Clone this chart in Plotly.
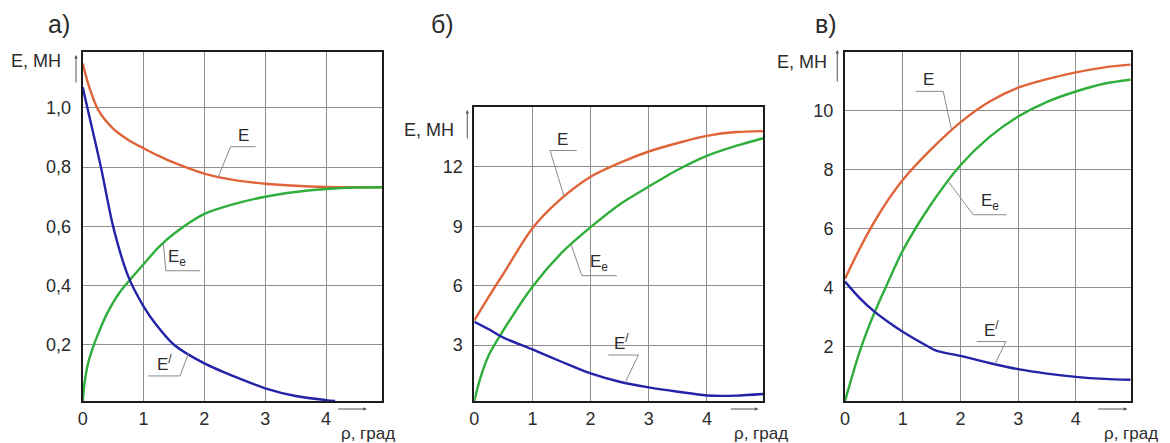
import numpy as np
import plotly.graph_objects as go

W, H = 1170, 443
FONT = "Liberation Sans, Arial, sans-serif"
TXT = "#2b2b2b"
C_E, C_EE, C_EP = "#e0643a", "#2fae3c", "#2323a8"

# ---- panel а ----
rho_E_a = [0, 0.1, 0.25, 0.5, 0.75, 1, 1.25, 1.5, 2, 2.5, 3, 3.5, 4, 4.5, 4.92]
E_a = [1.15, 1.075, 0.995, 0.93, 0.892, 0.864, 0.838, 0.815, 0.778, 0.756, 0.744, 0.737, 0.733, 0.732, 0.732]
rho_Ee_a = [0, 0.03, 0.08, 0.15, 0.25, 0.4, 0.6, 0.8, 1, 1.25, 1.5, 2, 2.5, 3, 3.5, 4, 4.5, 4.92]
Ee_a = [0.01, 0.07, 0.13, 0.18, 0.235, 0.305, 0.375, 0.425, 0.472, 0.53, 0.575, 0.642, 0.676, 0.70, 0.716, 0.726, 0.731, 0.732]
rho_Ep_a = [0, 0.1, 0.3, 0.5, 0.75, 1, 1.2, 1.5, 2, 2.5, 3, 3.5, 4, 4.15]
Ep_a = [1.07, 0.98, 0.8, 0.6, 0.43, 0.33, 0.27, 0.2, 0.137, 0.092, 0.053, 0.027, 0.013, 0.01]
yticks_a = [0.2, 0.4, 0.6, 0.8, 1.0]
ylabels_a = ["0,2", "0,4", "0,6", "0,8", "1,0"]

# ---- panel б ----
rho_b = [0, 0.25, 0.5, 1, 1.5, 2, 2.5, 3, 3.5, 4, 4.5, 4.97]
E_b = [4.25, 5.45, 6.6, 8.9, 10.4, 11.5, 12.2, 12.77, 13.2, 13.56, 13.75, 13.8]
rho_Ee_b = [0, 0.1, 0.25, 0.5, 1, 1.5, 2, 2.5, 3, 3.5, 4, 4.5, 4.97]
Ee_b = [0.18, 1.3, 2.5, 3.75, 5.95, 7.65, 8.95, 10.1, 11.0, 11.85, 12.55, 13.05, 13.44]
Ep_b = [4.18, 3.8, 3.38, 2.78, 2.16, 1.57, 1.15, 0.87, 0.65, 0.46, 0.45, 0.53]
yticks_b = [3, 6, 9, 12]
ylabels_b = ["3", "6", "9", "12"]

# ---- panel в ----
rho_c = [0, 0.25, 0.5, 0.75, 1, 1.5, 2, 2.5, 3, 3.5, 4, 4.5, 4.95]
E_c = [4.3, 5.3, 6.2, 6.98, 7.65, 8.7, 9.6, 10.3, 10.78, 11.07, 11.3, 11.47, 11.56]
Ee_c = [0.15, 1.8, 3.1, 4.2, 5.25, 6.85, 8.15, 9.1, 9.8, 10.3, 10.65, 10.92, 11.05]
rho_Ep_c = [0, 0.25, 0.5, 0.75, 1, 1.44, 1.59, 2, 2.5, 3, 3.5, 4, 4.5, 4.95]
Ep_c = [4.2, 3.65, 3.2, 2.83, 2.5, 2.0, 1.85, 1.68, 1.44, 1.23, 1.08, 0.97, 0.9, 0.87]
yticks_c = [2, 4, 6, 8, 10]
ylabels_c = ["2", "4", "6", "8", "10"]

xticks = [0, 1, 2, 3, 4]
xlabels = ["0", "1", "2", "3", "4"]


def px(x):
    return x / W


def py(y):
    return 1 - y / H


fig = go.Figure()

panels = [
    dict(ax="", rng_x=[0, 4.92], rng_y=[0.01, 1.19], dom_x=[82.7, 382], top=51.7,
         series=[(rho_E_a, E_a, C_E), (rho_Ee_a, Ee_a, C_EE), (rho_Ep_a, Ep_a, C_EP)],
         yt=yticks_a, yl=ylabels_a),
    dict(ax="2", rng_x=[0, 4.97], rng_y=[0.18, 15.0], dom_x=[474.3, 763.3], top=107.3,
         series=[(rho_b, E_b, C_E), (rho_Ee_b, Ee_b, C_EE), (rho_b, Ep_b, C_EP)],
         yt=yticks_b, yl=ylabels_b),
    dict(ax="3", rng_x=[0, 4.95], rng_y=[0.15, 12.0], dom_x=[845, 1130.7], top=51.7,
         series=[(rho_c, E_c, C_E), (rho_c, Ee_c, C_EE), (rho_Ep_c, Ep_c, C_EP)],
         yt=yticks_c, yl=ylabels_c),
]

layout = dict(
    width=W, height=H, margin=dict(l=0, r=0, t=0, b=0),
    paper_bgcolor="white", plot_bgcolor="white", showlegend=False,
    font=dict(family=FONT, color=TXT),
)

for p in panels:
    a = p["ax"]
    for xs, ys, col in p["series"]:
        fig.add_trace(go.Scatter(
            x=xs, y=ys, mode="lines", xaxis="x" + a, yaxis="y" + a,
            line=dict(color=col, width=2.4, shape="spline", smoothing=0.8),
            hoverinfo="skip"))
    common = dict(showgrid=True, gridcolor="#8e8e8e", gridwidth=1, zeroline=False,
                  showline=True, mirror=True, linecolor="#1c1c1c", linewidth=2,
                  ticks="", tickfont=dict(family=FONT, size=18, color=TXT),
                  fixedrange=True, automargin=False)
    layout["xaxis" + a] = dict(common, domain=[px(p["dom_x"][0]), px(p["dom_x"][1])],
                               range=p["rng_x"], tickvals=xticks, ticktext=xlabels,
                               anchor="y" + a)
    layout["yaxis" + a] = dict(common, domain=[py(401), py(p["top"])],
                               range=p["rng_y"], tickvals=p["yt"], ticktext=p["yl"],
                               anchor="x" + a, ticklabelstandoff=6)

fig.update_layout(**layout)

annotations = []
shapes = []


def note(x, y, text, size, **kw):
    d = dict(x=x, y=y, xref="paper", yref="paper", text=text, showarrow=False,
             xanchor="center", yanchor="middle",
             font=dict(size=size, color=TXT, family=FONT))
    d.update(kw)
    return d


# panel captions
for txt, x in [("а)", 59), ("б)", 442), ("в)", 826)]:
    annotations.append(note(px(x), py(24), txt, 25))

# vertical axis titles with arrows
for x, y, ax_x, ay0, ay1 in [(36, 61, 76, 55, 84), (429, 130, 467.3, 110, 140), (802, 61.5, 837.3, 50, 83)]:
    annotations.append(note(px(x), py(y), "E, МН", 18))
    annotations.append(dict(x=px(ax_x), y=py(ay0), xref="paper", yref="paper", text="",
                            showarrow=True, ax=0, ay=ay1 - ay0, arrowhead=2, arrowsize=0.7,
                            arrowwidth=1, arrowcolor="#555555"))

# horizontal axis titles with arrows
for x0, x1, ya, xt in [(336.7, 366.7, 409, 368), (729.3, 758.3, 409, 761), (1096.7, 1127.3, 409, 1131)]:
    annotations.append(dict(x=px(x1), y=py(ya), xref="paper", yref="paper", text="",
                            showarrow=True, ax=-(x1 - x0), ay=0, arrowhead=2, arrowsize=0.7,
                            arrowwidth=1, arrowcolor="#555555"))
    annotations.append(note(px(xt), py(433), "ρ, град", 17))

# curve labels with leader lines: (axis suffix, text, text x, underline x0, x1, y, anchor x, curve x, curve data)
leaders = [
    ("", "E", 2.64, 2.43, 2.84, 0.869, 2.43, 2.23, (rho_E_a, E_a)),
    ("", "E<sub>e</sub>", 1.55, 1.365, 1.93, 0.450, 1.365, 1.326, (rho_Ee_a, Ee_a)),
    ("", "E<sup>/</sup>", 1.34, 1.074, 1.60, 0.0946, 1.60, 1.737, (rho_Ep_a, Ep_a)),
    ("2", "E", 1.52, 1.303, 1.762, 12.82, 1.303, 1.544, (rho_b, E_b)),
    ("2", "E<sub>e</sub>", 2.15, 1.849, 2.451, 6.505, 1.849, 1.664, (rho_Ee_b, Ee_b)),
    ("2", "E<sup>/</sup>", 2.53, 2.306, 2.823, 2.5, 2.823, 2.594, (rho_b, Ep_b)),
    ("3", "E", 1.44, 1.224, 1.702, 10.655, 1.702, 1.848, (rho_c, E_c)),
    ("3", "E<sub>e</sub>", 2.52, 2.222, 2.80, 6.469, 2.222, 1.789, (rho_c, Ee_c)),
    ("3", "E<sup>/</sup>", 2.53, 2.28, 2.788, 2.166, 2.788, 2.597, (rho_Ep_c, Ep_c)),
]
for a, txt, tx, ux0, ux1, uy, lx, cx, (xs, ys) in leaders:
    xr, yr = "x" + a, "y" + a
    cy = float(np.interp(cx, xs, ys))
    shapes.append(dict(type="line", xref=xr, yref=yr, x0=ux0, x1=ux1, y0=uy, y1=uy,
                       line=dict(color="#8a8a8a", width=1)))
    shapes.append(dict(type="line", xref=xr, yref=yr, x0=lx, x1=cx, y0=uy, y1=cy,
                       line=dict(color="#8a8a8a", width=1)))
    annotations.append(dict(x=tx, y=uy, xref=xr, yref=yr, text=txt, showarrow=False,
                            xanchor="center", yanchor="bottom",
                            font=dict(size=17, color=TXT, family=FONT)))

fig.update_layout(annotations=annotations, shapes=shapes)
fig.write_html("out.html")
